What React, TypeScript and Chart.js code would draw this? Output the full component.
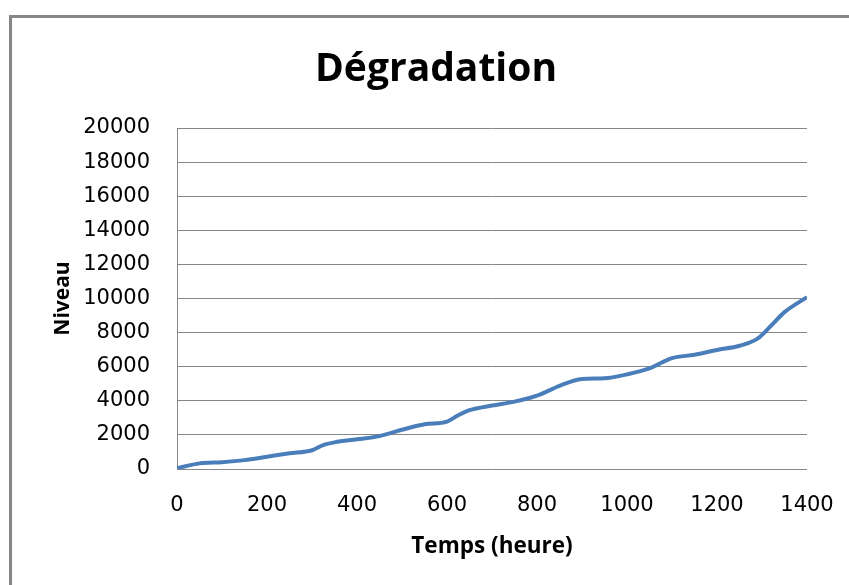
import React, { useEffect, useRef } from "react";
import { Chart, registerables } from "chart.js";

Chart.register(...registerables);

const hours = [0, 50, 100, 150, 200, 250, 300, 325, 350, 400, 450, 500, 550, 600, 625, 650, 700, 750, 800, 850, 900, 950, 1000, 1050, 1100, 1150, 1200, 1250, 1290, 1320, 1350, 1400];
const levels = [40, 330, 400, 520, 720, 920, 1100, 1400, 1560, 1740, 1930, 2300, 2620, 2780, 3150, 3450, 3720, 3950, 4300, 4880, 5280, 5320, 5550, 5900, 6500, 6700, 6980, 7230, 7650, 8400, 9200, 10080];

const chartTitle = "Dégradation";
const xTitle = "Temps (heure)";
const yTitle = "Niveau";

const titlePlugin = {
  id: "customTitle",
  afterDraw(chart: any) {
    const ctx = chart.ctx;
    ctx.save();
    ctx.fillStyle = "#000";
    ctx.font = "bold 39px 'Open Sans'";
    ctx.textAlign = "center";
    ctx.textBaseline = "middle";
    ctx.fillText(chartTitle, 436, 70);
    ctx.restore();
  },
};

export default function App() {
  const ref = useRef<HTMLCanvasElement | null>(null);

  useEffect(() => {
    if (!ref.current) return;
    const points = hours.map((h, i) => ({ x: h, y: levels[i] }));
    const gridColor = "#878787";
    const chart = new Chart(ref.current, {
      type: "scatter",
      data: {
        datasets: [
          {
            data: points,
            showLine: true,
            borderColor: "#4a7ebb",
            backgroundColor: "#4a7ebb",
            borderWidth: 4,
            pointRadius: 0,
            cubicInterpolationMode: "monotone",
          },
        ],
      },
      plugins: [titlePlugin],
      options: {
        animation: false,
        responsive: false,
        maintainAspectRatio: false,
        layout: { padding: { top: 128, left: 0, right: 42, bottom: 25 } },
        plugins: {
          legend: { display: false },
          tooltip: { enabled: false },
          title: { display: false },
        },
        scales: {
          x: {
            type: "linear",
            min: 0,
            max: 1400,
            afterFit: (s: any) => {
              s.height = 91;
              s.paddingLeft = 0;
              s.paddingRight = 0;
            },
            ticks: {
              stepSize: 200,
              padding: 24,
              color: "#000",
              font: { family: "DejaVu Sans", size: 21, lineHeight: 1.2 },
              callback: (v: any) => String(v),
            },
            grid: { display: false, drawTicks: false },
            border: { display: false },
            title: {
              display: true,
              text: xTitle,
              color: "#000",
              font: { family: "Open Sans", size: 22.5, weight: "bold", lineHeight: 1.2 },
              padding: { top: 21, bottom: 0 },
            },
          },
          y: {
            type: "linear",
            min: 0,
            max: 20000,
            afterFit: (s: any) => {
              s.width = 177;
            },
            ticks: {
              stepSize: 2000,
              padding: 27,
              color: "#000",
              font: { family: "DejaVu Sans", size: 21, lineHeight: 1.2 },
              callback: (v: any) => String(v),
            },
            grid: { color: gridColor, lineWidth: 1, drawTicks: false },
            border: { display: true, color: gridColor, width: 1 },
            title: {
              display: true,
              text: yTitle,
              color: "#000",
              font: { family: "Open Sans", size: 21, weight: "bold", lineHeight: 1.2 },
              padding: { top: 50, bottom: 0 },
            },
          },
        },
      },
    });
    return () => chart.destroy();
  }, []);

  return (
    <div
      style={{
        position: "fixed",
        left: 0,
        top: 0,
        width: 849,
        height: 585,
        overflow: "hidden",
        background: "#fff",
      }}
    >
      <div
        style={{
          position: "absolute",
          left: 9,
          top: 15,
          width: 1000,
          height: 1000,
          borderLeft: "3px solid #878787",
          borderTop: "3px solid #878787",
          boxSizing: "border-box",
        }}
      />
      <canvas
        ref={ref}
        width={849}
        height={585}
        style={{ position: "absolute", left: 0, top: 0, width: 849, height: 585 }}
      />
    </div>
  );
}
